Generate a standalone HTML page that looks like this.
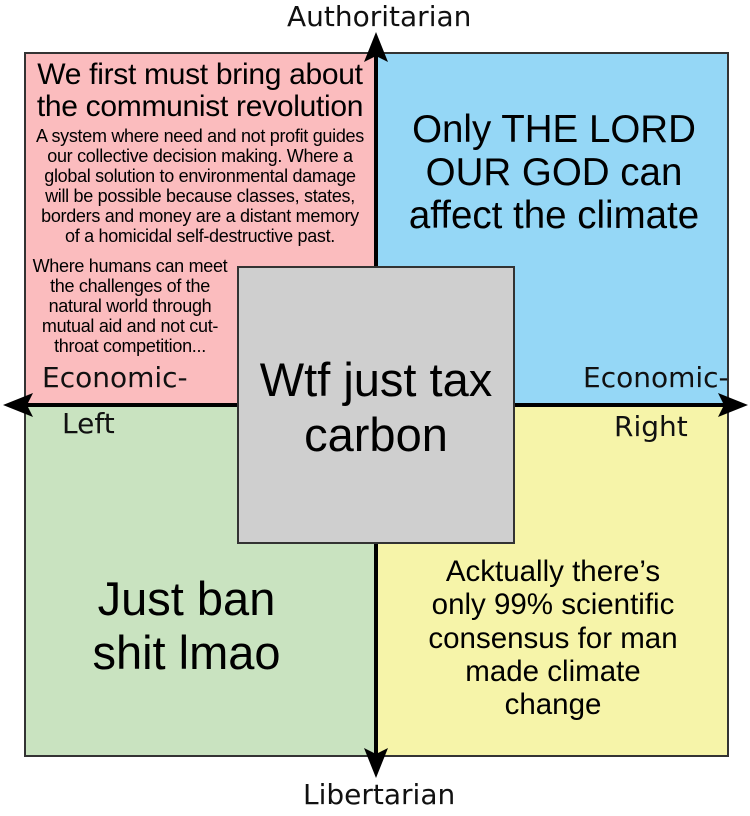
<!DOCTYPE html>
<html><head><meta charset="utf-8"><style>
body{margin:0;width:750px;height:816px;background:#fff;position:relative;overflow:hidden;font-family:"Liberation Sans",sans-serif}
.q{position:absolute;box-sizing:border-box;border:2px solid #333}
.t{position:absolute;text-align:center;color:#000;line-height:1.08;white-space:nowrap}
.ax{position:absolute;font-family:"DejaVu Sans",sans-serif;font-size:28px;color:#111;line-height:1}
</style></head><body>
<div class="q" style="left:24px;top:52px;width:354px;height:355px;background:#fbbcbe"></div>
<div class="q" style="left:376px;top:52px;width:353px;height:355px;background:#95d7f6"></div>
<div class="q" style="left:24px;top:405px;width:354px;height:352px;background:#c9e3c0"></div>
<div class="q" style="left:376px;top:405px;width:353px;height:352px;background:#f6f4a9"></div>

<div class="t" style="left:26px;top:59px;width:348px;font-size:30px;line-height:32px;letter-spacing:-0.3px">We first must bring about<br>the communist revolution</div>
<div class="t" style="left:26px;top:126px;width:348px;font-size:18px;line-height:20px;letter-spacing:-0.3px">A system where need and not profit guides<br>our collective decision making. Where a<br>global solution to environmental damage<br>will be possible because classes, states,<br>borders and money are a distant memory<br>of a homicidal self-destructive past.</div>
<div class="t" style="left:26px;top:256px;width:208px;font-size:18px;line-height:20px;letter-spacing:-0.3px">Where humans can meet<br>the challenges of the<br>natural world through<br>mutual aid and not cut-<br>throat competition...</div>
<div class="t" style="left:384px;top:108px;width:340px;font-size:38.5px;line-height:43px">Only THE LORD<br>OUR GOD can<br>affect the climate</div>
<div class="t" style="left:24px;top:572px;width:325px;font-size:47px;line-height:54px">Just ban<br>shit lmao</div>
<div class="t" style="left:378px;top:555px;width:350px;font-size:29.5px;line-height:33.3px">Acktually there’s<br>only 99% scientific<br>consensus for man<br>made climate<br>change</div>

<svg style="position:absolute;left:0;top:0" width="750" height="816">
<line x1="376" y1="45" x2="376" y2="765" stroke="#000" stroke-width="4"/>
<line x1="15" y1="405" x2="736" y2="405" stroke="#000" stroke-width="4"/>
<polygon points="376,32 364,62 376,56 388,62" fill="#000"/>
<polygon points="376,778 364,748 376,754 388,748" fill="#000"/>
<polygon points="3,405 33,393 27,405 33,417" fill="#000"/>
<polygon points="748,405 718,393 724,405 718,417" fill="#000"/>
</svg>

<div class="q" style="left:237px;top:266px;width:278px;height:278px;background:#cfcfcf"></div>
<div class="t" style="left:237px;top:352px;width:278px;font-size:47px;line-height:55px">Wtf just tax<br>carbon</div>

<div class="ax" style="left:287px;top:3px">Authoritarian</div>
<div class="ax" style="left:303px;top:781px">Libertarian</div>
<div class="ax" style="left:42px;top:364px">Economic-</div>
<div class="ax" style="left:62px;top:410px">Left</div>
<div class="ax" style="left:583px;top:364px">Economic-</div>
<div class="ax" style="left:614px;top:413px">Right</div>
</body></html>
